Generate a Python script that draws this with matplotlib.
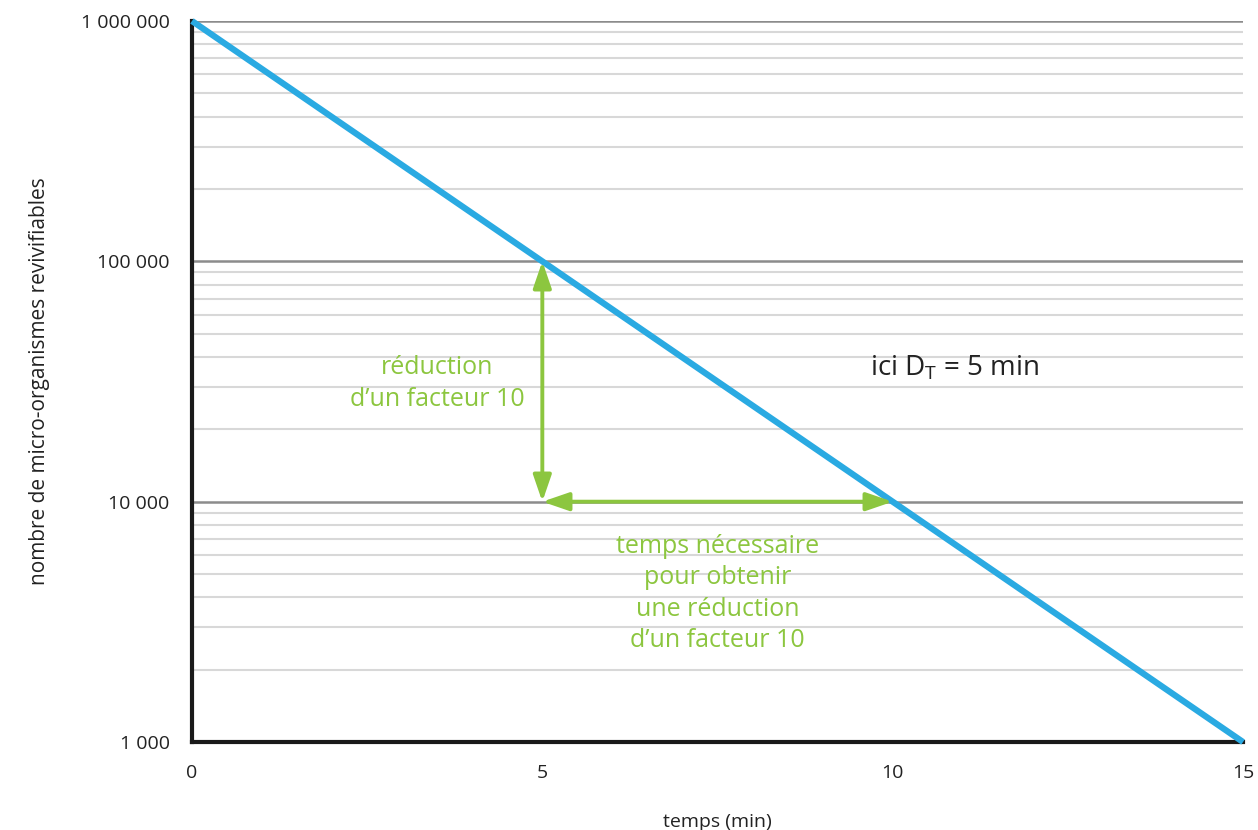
import numpy as np
import matplotlib
matplotlib.use("Agg")
from matplotlib import pyplot as plt
from matplotlib.ticker import FixedLocator, LogLocator, NullFormatter

temps = [0, 15]
survivants = [1_000_000, 1_000]
x_ticks = [0, 5, 10, 15]
y_ticks = [1_000, 10_000, 100_000, 1_000_000]
y_labels = ["1 000", "10 000", "100 000", "1 000 000"]
dt_start, dt_end = 5, 10
n_haut, n_bas = 100_000, 10_000

BLUE = "#2aaae2"
GREEN = "#8cc63f"
DARK = "#222222"

plt.rcParams["font.family"] = ["Open Sans", "DejaVu Sans"]

fig = plt.figure(figsize=(12.58, 8.3), dpi=100)
ax = fig.add_axes([0.1526, 0.106, 0.8355, 0.8687])

ax.set_yscale("log")
ax.set_xlim(0, 15)
ax.set_ylim(1_000, 1_000_000)

ax.yaxis.set_major_locator(FixedLocator(y_ticks))
ax.set_yticklabels(y_labels)
ax.yaxis.set_minor_locator(LogLocator(base=10, subs=np.arange(2, 10)))
ax.yaxis.set_minor_formatter(NullFormatter())
ax.set_xticks(x_ticks)

ax.grid(axis="y", which="major", color="#8c8c8c", lw=1.8)
ax.grid(axis="y", which="minor", color="#d8d8d8", lw=1.5)
ax.set_axisbelow(True)

for s in ("top", "right"):
    ax.spines[s].set_visible(False)
for s in ("left", "bottom"):
    ax.spines[s].set_linewidth(3)
    ax.spines[s].set_color("#1a1a1a")

ax.tick_params(which="both", length=0)
ax.tick_params(axis="y", labelsize=14, pad=16, colors=DARK)
ax.tick_params(axis="x", labelsize=14, pad=16, colors=DARK)

ax.plot(temps, survivants, color=BLUE, lw=4.5, solid_capstyle="butt", zorder=3,
        clip_on=False)

arrow = dict(arrowstyle="<|-|>,head_length=1.6,head_width=0.55", color=GREEN,
             lw=2.8, shrinkA=0, shrinkB=0)
ax.annotate("", xy=(dt_start, n_haut), xytext=(dt_start, n_bas),
            arrowprops=arrow, zorder=4)
ax.annotate("", xy=(dt_end, n_bas), xytext=(dt_start, n_bas),
            arrowprops=arrow, zorder=4)

ax.text(3.5, 31_000, "réduction\nd’un facteur 10", color=GREEN, fontsize=18,
        ha="center", va="center", linespacing=1.35)
ax.text(7.5, 4_150, "temps nécessaire\npour obtenir\nune réduction\nd’un facteur 10",
        color=GREEN, fontsize=18, ha="center", va="center", linespacing=1.35)
ax.text(9.68, 36_000, r"ici D$_\mathregular{T}$ = 5 min", color=DARK,
        fontsize=20, ha="left", va="center")

ax.set_xlabel("temps (min)", fontsize=14, labelpad=22, color=DARK)
ax.set_ylabel("nombre de micro-organismes revivifiables", fontsize=15,
              labelpad=22, color=DARK)

fig.savefig("out.png", dpi=100)
